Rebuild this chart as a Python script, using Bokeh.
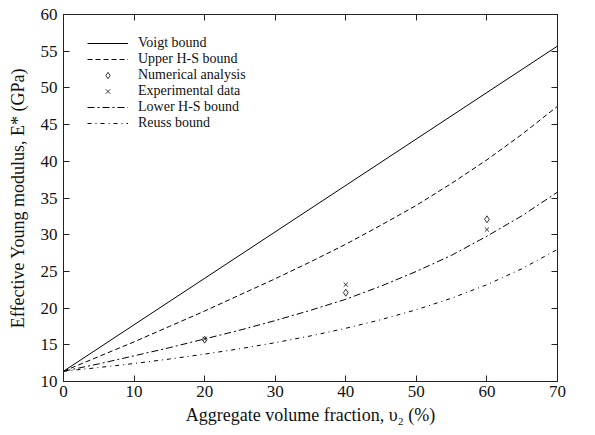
from bokeh.plotting import figure
from bokeh.models import Legend, LegendItem, LinearAxis, Range1d, FixedTicker
from bokeh.embed import file_html
from bokeh.resources import INLINE

# --- data ---
v_voigt = [0, 70]
e_voigt = [11.4, 55.7]

v_curve = [0, 5, 10, 15, 20, 25, 30, 35, 40, 45, 50, 55, 60, 65, 70]
e_upper_hs = [11.4, 13.4, 15.4, 17.5, 19.6, 21.8, 24.0, 26.3, 28.7, 31.3, 34.0, 37.0, 40.2, 43.7, 47.5]
e_lower_hs = [11.4, 12.4, 13.5, 14.6, 15.8, 17.0, 18.3, 19.7, 21.2, 23.0, 25.0, 27.2, 29.8, 32.6, 35.8]
e_reuss = [11.4, 11.9, 12.45, 13.06, 13.73, 14.46, 15.29, 16.21, 17.25, 18.43, 19.78, 21.35, 23.19, 25.38, 28.0]

v_points = [20, 40, 60]
e_numerical = [15.7, 22.1, 32.1]
e_experimental = [15.8, 23.2, 30.7]

x_ticks = [0, 10, 20, 30, 40, 50, 60, 70]
y_ticks = [10, 15, 20, 25, 30, 35, 40, 45, 50, 55, 60]

FONT = "Liberation Serif"
INK = "#222222"

p = figure(width=595, height=435, output_backend="svg", toolbar_location=None,
           x_range=Range1d(0, 70), y_range=Range1d(10, 60),
           min_border_left=63, min_border_right=38, min_border_top=14, min_border_bottom=54)
p.xgrid.visible = False
p.ygrid.visible = False
p.outline_line_color = INK
p.outline_line_width = 1

for ax, ticks in ((p.xaxis[0], x_ticks), (p.yaxis[0], y_ticks)):
    ax.ticker = FixedTicker(ticks=ticks)
    ax.major_tick_in = 6
    ax.major_tick_out = 0
    ax.minor_tick_line_color = None
    ax.axis_line_color = INK
    ax.major_tick_line_color = INK
    ax.major_label_text_font = FONT
    ax.major_label_text_font_size = "17px"
    ax.major_label_text_color = "#111111"
    ax.axis_label_text_font = FONT
    ax.axis_label_text_font_size = "18px"
    ax.axis_label_text_font_style = "normal"
    ax.axis_label_text_color = "#111111"

p.xaxis.axis_label = "Aggregate volume fraction, \u03c5\u2082 (%)"
p.yaxis.axis_label = "Effective Young modulus, E* (GPa)"
p.xaxis.major_label_standoff = 4
p.yaxis.major_label_standoff = 6
p.xaxis.axis_label_standoff = 5
p.yaxis.axis_label_standoff = 10

# mirrored axes (ticks only, labels hidden)
top = LinearAxis(ticker=FixedTicker(ticks=x_ticks), major_label_text_color=None,
                 major_tick_in=6, major_tick_out=0, minor_tick_line_color=None,
                 axis_line_color=INK, major_tick_line_color=INK)
right = LinearAxis(ticker=FixedTicker(ticks=y_ticks), major_label_text_color=None,
                   major_tick_in=6, major_tick_out=0, minor_tick_line_color=None,
                   axis_line_color=INK, major_tick_line_color=INK)
p.add_layout(top, "above")
p.add_layout(right, "right")

r_voigt = p.line(v_voigt, e_voigt, line_color="black", line_width=1)
r_upper = p.line(v_curve, e_upper_hs, line_color="black", line_width=1, line_dash="5 3")
r_num = p.scatter(v_points, e_numerical, marker="diamond", size=7, fill_color="white",
                  line_color="#333333", line_width=1)
r_exp = p.scatter(v_points, e_experimental, marker="x", size=6, line_color="#333333", line_width=1)
r_lower = p.line(v_curve, e_lower_hs, line_color="black", line_width=1, line_dash="7 3 2 3")
r_reuss = p.line(v_curve, e_reuss, line_color="black", line_width=1, line_dash="4 4 1 4")

legend = Legend(items=[
    LegendItem(label="Voigt bound", renderers=[r_voigt]),
    LegendItem(label="Upper H-S bound", renderers=[r_upper]),
    LegendItem(label="Numerical analysis", renderers=[r_num]),
    LegendItem(label="Experimental data", renderers=[r_exp]),
    LegendItem(label="Lower H-S bound", renderers=[r_lower]),
    LegendItem(label="Reuss bound", renderers=[r_reuss]),
], location=(24, 250))
legend.padding = 0
legend.margin = 0
legend.spacing = 0
legend.border_line_alpha = 0
legend.background_fill_alpha = 0
legend.glyph_width = 41
legend.glyph_height = 16
legend.label_height = 16
legend.label_standoff = 10
legend.label_text_font = FONT
legend.label_text_font_size = "14px"
legend.label_text_color = "#111111"
p.add_layout(legend)

open("out.html", "w").write(file_html(p, INLINE))
